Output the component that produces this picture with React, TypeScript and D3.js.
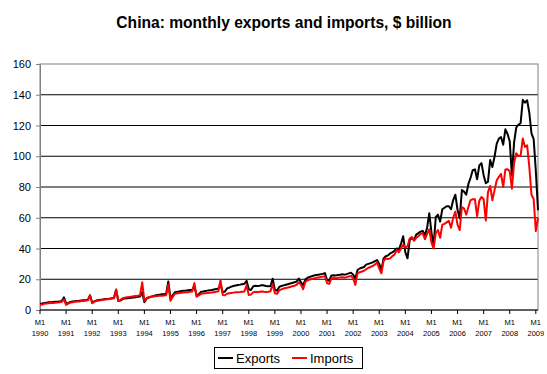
import React, { useEffect, useRef } from "react";
import * as d3 from "d3";

// monthly values, $ billion, Jan 1990 .. Feb 2009 (one row per year)
const exportsBn = [
  3.9, 4.2, 4.6, 4.8, 5.0, 5.1, 5.2, 5.3, 5.4, 5.6, 5.8, 8.2,
  4.4, 4.6, 5.2, 5.5, 5.7, 5.9, 6.0, 6.2, 6.3, 6.4, 6.6, 9.6,
  4.8, 5.6, 6.2, 6.5, 6.7, 6.9, 7.1, 7.2, 7.4, 7.6, 7.8, 13.2,
  5.8, 6.1, 7.2, 7.4, 7.6, 7.8, 7.9, 8.1, 8.3, 8.6, 8.8, 11.5,
  5.0, 7.4, 8.0, 8.6, 9.0, 9.4, 9.8, 10.0, 10.2, 10.3, 10.5, 18.6,
  7.5, 9.5, 11.5, 11.8, 12.0, 12.3, 12.5, 12.6, 12.8, 13.0, 13.2, 15.5,
  9.5, 10.2, 11.8, 12.0, 12.3, 12.6, 12.8, 13.0, 13.3, 13.6, 14.0, 16.5,
  11.5, 12.0, 14.0, 14.6, 15.2, 15.6, 16.0, 16.3, 16.5, 16.8, 17.0, 19.0,
  13.5, 13.0, 15.3, 15.8, 15.6, 15.8, 16.2, 15.9, 15.6, 15.4, 15.6, 20.3,
  13.0, 12.5, 15.0, 15.6, 16.0, 16.4, 16.8, 17.2, 17.6, 18.0, 18.5, 20.5,
  18.0, 16.0, 19.8, 21.0, 21.5, 22.0, 22.4, 22.8, 23.0, 23.2, 23.5, 24.0,
  19.5, 19.0, 22.5, 22.6, 22.5, 22.8, 23.0, 23.2, 23.0, 23.3, 23.8, 24.3,
  23.0, 20.5, 26.0, 27.0, 27.5, 28.0, 29.5, 30.0, 30.5, 31.0, 31.8, 32.5,
  30.0, 26.0, 33.5, 35.0, 35.5, 36.8, 37.5, 38.5, 40.0, 39.5, 43.0, 48.0,
  37.5, 33.6, 45.5, 47.0, 45.5, 49.0, 50.0, 51.0, 51.5, 48.5, 53.5, 63.0,
  50.5, 42.0, 60.5, 62.0, 57.5, 65.5, 66.5, 67.5, 67.5, 65.5, 71.5, 75.0,
  65.0, 59.6, 78.0, 77.0, 75.0, 82.0, 86.0, 91.0, 91.5, 85.0, 94.0, 95.5,
  87.7, 82.4, 83.5, 97.5, 93.0, 99.5, 108.0, 111.5, 112.5, 107.5, 117.5, 114.5,
  109.7, 87.4, 108.9, 118.7, 120.5, 121.5, 136.7, 134.9, 136.4, 128.3, 114.9, 111.2,
  90.5, 64.9,
];

const importsBn = [
  3.4, 3.6, 4.0, 4.3, 4.4, 4.5, 4.6, 4.7, 4.8, 5.0, 5.3, 6.8,
  3.3, 4.2, 4.8, 5.1, 5.3, 5.5, 5.6, 5.8, 5.9, 6.1, 6.3, 9.4,
  4.4, 5.3, 5.9, 6.2, 6.4, 6.6, 6.8, 7.0, 7.2, 7.4, 7.6, 13.4,
  5.8, 6.6, 7.6, 8.0, 8.3, 8.5, 8.7, 8.9, 9.1, 9.3, 9.6, 18.0,
  6.0, 7.8, 8.3, 8.6, 8.8, 9.0, 9.1, 9.2, 9.3, 9.4, 9.6, 16.5,
  6.0, 8.5, 10.5, 10.8, 11.0, 11.2, 11.4, 11.5, 11.6, 11.8, 12.0, 17.5,
  8.6, 9.5, 10.5, 10.7, 10.9, 11.0, 11.2, 11.4, 11.6, 11.8, 12.2, 19.5,
  9.8, 9.6, 10.6, 10.9, 11.1, 11.3, 11.5, 11.6, 11.7, 11.9, 12.1, 16.0,
  9.8, 10.0, 11.5, 11.8, 11.6, 11.8, 12.0, 11.8, 11.7, 11.9, 12.2, 17.0,
  10.8, 10.5, 12.8, 13.4, 14.0, 14.3, 14.6, 15.0, 15.4, 15.8, 16.4, 18.0,
  16.5, 13.5, 18.2, 19.3, 19.8, 20.2, 20.5, 20.9, 21.2, 21.4, 21.7, 22.0,
  17.4, 17.0, 20.5, 20.8, 20.6, 20.9, 21.1, 21.3, 21.0, 21.4, 21.8, 22.2,
  20.5, 16.3, 23.9, 24.6, 25.0, 25.5, 26.5, 27.5, 28.0, 28.6, 29.5, 31.0,
  27.0, 23.9, 32.0, 33.5, 33.2, 33.6, 35.0, 36.0, 39.0, 37.5, 40.0, 42.5,
  40.5, 41.5, 46.5, 47.5, 45.0, 47.0, 48.0, 49.5, 50.0, 46.0, 49.5, 52.5,
  44.0, 40.0, 50.0, 52.0, 47.0, 55.5, 56.0, 57.0, 58.0, 53.5, 60.0, 64.0,
  55.5, 52.0, 67.0, 66.0, 62.0, 67.0, 71.5, 72.0, 72.0, 61.0, 71.0, 73.5,
  72.0, 58.2, 76.7, 80.7, 71.4, 77.8, 84.2, 86.6, 88.5, 80.0, 91.4, 91.6,
  90.3, 78.9, 95.6, 101.9, 100.2, 100.4, 111.5, 106.0, 107.1, 93.1, 75.0, 72.2,
  51.3, 60.0,
];

const years = d3.range(1990, 2010).map(String);
const yTicks = [0, 20, 40, 60, 80, 100, 120, 140, 160];
const seriesNames = ["Exports", "Imports"];
const seriesColors = ["#000000", "#ff0000"];

const App = () => {
  const svgRef = useRef(null);

  useEffect(() => {
    document.body.style.margin = "0";
    const width = 547;
    const height = 374;
    const margin = { top: 64, right: 9, bottom: 64, left: 40 };
    const font = "'Liberation Sans', Arial, sans-serif";

    const svg = d3
      .select(svgRef.current)
      .attr("width", width)
      .attr("height", height)
      .style("font-family", font);
    svg.selectAll("*").remove();

    svg.append("rect").attr("width", width).attr("height", height).attr("fill", "#fff");

    const x = d3
      .scaleLinear()
      .domain([0, exportsBn.length - 1])
      .range([margin.left, width - margin.right]);
    const y = d3
      .scaleLinear()
      .domain([0, 160])
      .range([height - margin.bottom, margin.top]);

    // title
    svg
      .append("text")
      .attr("x", 284)
      .attr("y", 28)
      .attr("text-anchor", "middle")
      .attr("font-size", 15.6)
      .attr("font-weight", "bold")
      .text("China: monthly exports and imports, $ billion");

    // grid
    svg
      .selectAll("line.grid")
      .data(yTicks.slice(1, -1))
      .enter()
      .append("line")
      .attr("class", "grid")
      .attr("x1", margin.left)
      .attr("x2", width - margin.right)
      .attr("y1", (d) => y(d))
      .attr("y2", (d) => y(d))
      .attr("stroke", "#000")
      .attr("stroke-width", 1);

    // plot border
    svg
      .append("rect")
      .attr("x", margin.left)
      .attr("y", y(160))
      .attr("width", width - margin.right - margin.left)
      .attr("height", y(0) - y(160))
      .attr("fill", "none")
      .attr("stroke", "#808080");

    // y axis
    const yAxis = svg
      .append("g")
      .attr("transform", `translate(${margin.left},0)`)
      .call(d3.axisLeft(y).tickValues(yTicks).tickSize(4).tickPadding(5));
    yAxis.select(".domain").attr("stroke", "#808080");
    yAxis.selectAll(".tick line").attr("stroke", "#808080");
    yAxis
      .selectAll("text")
      .attr("font-size", 11)
      .attr("font-family", font)
      .attr("fill", "#000");

    // x axis
    const xAxis = svg
      .append("g")
      .attr("transform", `translate(0,${y(0)})`);
    xAxis
      .append("line")
      .attr("x1", margin.left)
      .attr("x2", width - margin.right)
      .attr("stroke", "#000");
    const xt = xAxis
      .selectAll("g.tick")
      .data(years)
      .enter()
      .append("g")
      .attr("transform", (d, i) => `translate(${x(i * 12)},0)`);
    xt.append("line").attr("y2", 4).attr("stroke", "#000");
    xt.append("text")
      .attr("y", 15)
      .attr("text-anchor", "middle")
      .attr("font-size", 7.5)
      .text("M1");
    xt.append("text")
      .attr("y", 25.5)
      .attr("text-anchor", "middle")
      .attr("font-size", 7.5)
      .text((d) => d);

    // lines
    const line = d3
      .line()
      .x((d, i) => x(i))
      .y((d) => y(d));
    [exportsBn, importsBn].forEach((vals, k) => {
      svg
        .append("path")
        .datum(vals)
        .attr("d", line)
        .attr("fill", "none")
        .attr("stroke", seriesColors[k])
        .attr("stroke-width", 2)
        .attr("stroke-linejoin", "round");
    });

    // legend
    const lg = svg.append("g");
    lg.append("rect")
      .attr("x", 214.5)
      .attr("y", 347.5)
      .attr("width", 148)
      .attr("height", 21)
      .attr("fill", "#fff")
      .attr("stroke", "#000");
    const items = lg
      .selectAll("g")
      .data(seriesNames)
      .enter()
      .append("g")
      .attr("transform", (d, i) => `translate(${[218, 292][i]},358)`);
    items
      .append("line")
      .attr("x2", 15)
      .attr("stroke", (d, i) => seriesColors[i])
      .attr("stroke-width", 2);
    items
      .append("text")
      .attr("x", 18)
      .attr("dy", "0.35em")
      .attr("font-size", 13)
      .text((d) => d);
  }, []);

  return <svg ref={svgRef} />;
};

export default App;
